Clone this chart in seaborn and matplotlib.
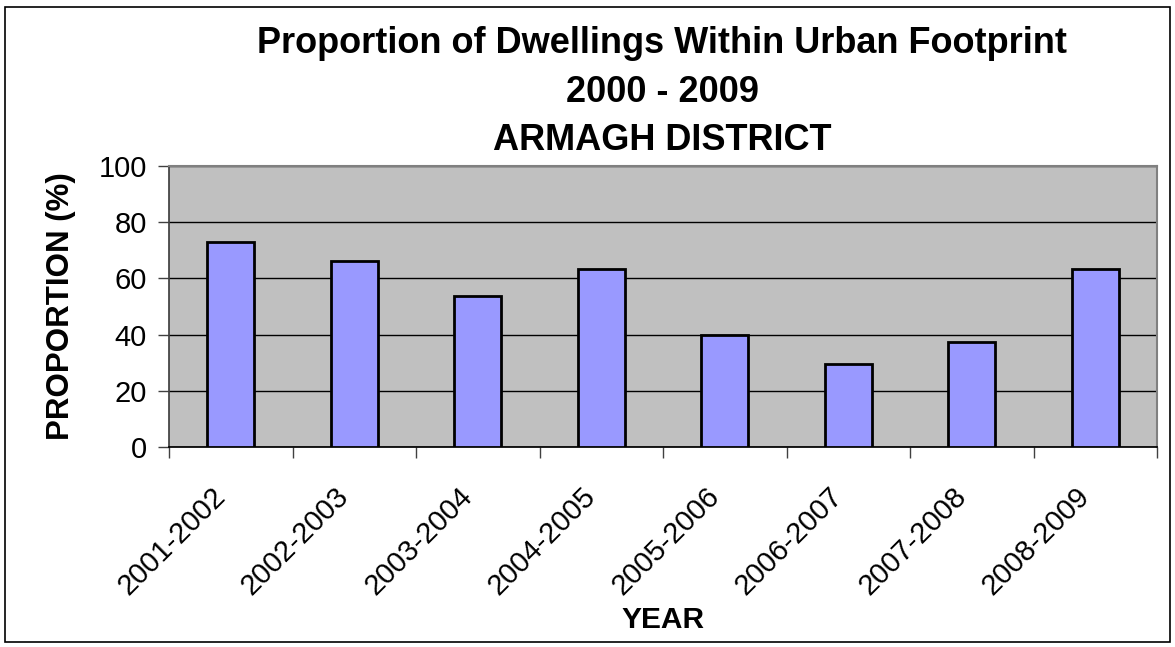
import numpy as np
import pandas as pd
import matplotlib
matplotlib.use('Agg')
import matplotlib.pyplot as plt
import seaborn as sns
from matplotlib.patches import Rectangle

years = ['2001-2002', '2002-2003', '2003-2004', '2004-2005',
         '2005-2006', '2006-2007', '2007-2008', '2008-2009']
proportion = [73.1, 66.1, 53.9, 63.4, 39.9, 29.4, 37.3, 63.4]
y_ticks = [0, 20, 40, 60, 80, 100]
title_lines = ['Proportion of Dwellings Within Urban Footprint', '2000 - 2009', 'ARMAGH DISTRICT']

df = pd.DataFrame({'year': years, 'proportion': proportion})

sns.set_theme(style='white')
plt.rcParams['font.family'] = ['Liberation Sans', 'DejaVu Sans']
plt.rcParams.update({'text.color': 'black', 'axes.labelcolor': 'black',
                     'xtick.color': 'black', 'ytick.color': 'black'})

W, H = 1175, 647
fig = plt.figure(figsize=(W / 100, H / 100), dpi=100)
ax = fig.add_axes([169 / W, 1 - 447 / H, (1157 - 169) / W, (447 - 166) / H])
ax.set_facecolor('#C0C0C0')

sns.barplot(data=df, x='year', y='proportion', ax=ax, color='#9999FF',
            saturation=1, width=0.38, edgecolor='black', linewidth=2, zorder=3)

# gridlines
ax.set_ylim(0, 100)
ax.set_yticks(y_ticks)
ax.set_yticklabels([str(v) for v in y_ticks], fontsize=21)
ax.yaxis.grid(True, color='black', linewidth=1)
ax.set_axisbelow(True)
ax.set_xlim(-0.5, len(years) - 0.5)

# x ticks at category boundaries, labels at centres
ax.set_xticks(np.arange(-0.5, len(years), 1), minor=True)
ax.tick_params(axis='x', which='minor', direction='out', length=8, width=1, color='#404040', bottom=True)
ax.tick_params(axis='x', which='major', length=0, pad=25)
ax.tick_params(axis='y', which='major', direction='out', length=8, width=1, color='#404040', left=True, pad=8)
ax.set_xticks(range(len(years)))
ax.set_xticklabels(years, rotation=45, ha='right', va='top', fontsize=21)

for side in ['top', 'right']:
    ax.spines[side].set_color('#808080')
    ax.spines[side].set_linewidth(1.5)
ax.spines['left'].set_color('#404040')
ax.spines['bottom'].set_color('black')

ax.set_xlabel('YEAR', fontsize=21.5, fontweight='bold', va='center')
ax.xaxis.set_label_coords(0.5, (447 - 620) / (447 - 166))
ax.set_ylabel('PROPORTION (%)', fontsize=22.5, fontweight='bold', va='center')
ax.yaxis.set_label_coords((61 - 169) / (1157 - 169), 0.5)

for line, base in zip(title_lines, [53, 102, 150]):
    fig.text(662 / W, 1 - base / H, line, ha='center', va='baseline',
             fontsize=26, fontweight='bold')

fig.patches.append(Rectangle((5 / W, 5 / H), 1 - 10 / W, 1 - 12 / H,
                             transform=fig.transFigure, fill=False,
                             edgecolor='black', linewidth=1.2))

fig.savefig('out.png', dpi=100)
